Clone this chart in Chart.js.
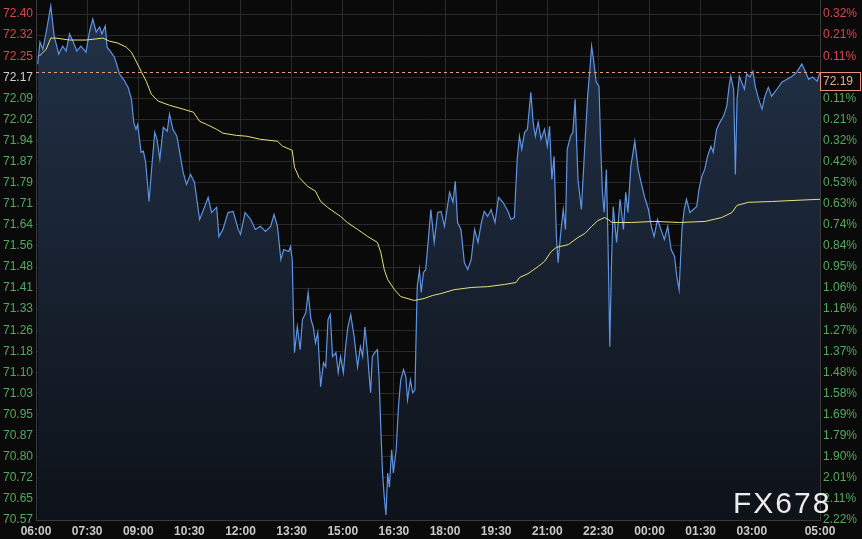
<!DOCTYPE html>
<html><head><meta charset="utf-8">
<script src="https://cdn.jsdelivr.net/npm/chart.js@4/dist/chart.umd.min.js"></script>
<style>html,body{margin:0;padding:0;background:#0a0a0a;overflow:hidden}#wrap{width:862px;height:539px;position:relative}</style>
</head><body><div id="wrap"><canvas id="c" width="862" height="539"></canvas></div>
<script>
const timeLabels = ['06:00','07:30','09:00','10:30','12:00','13:30','15:00','16:30','18:00','19:30','21:00','22:30','00:00','01:30','03:00','05:00'];
const timeTickMinutes = [0,90,180,270,360,450,540,630,720,810,900,990,1080,1170,1260,1380];
const priceTickLabels = ['72.40','72.32','72.25','72.17','72.09','72.02','71.94','71.87','71.79','71.71','71.64','71.56','71.48','71.41','71.33','71.26','71.18','71.10','71.03','70.95','70.87','70.80','70.72','70.65','70.57'];
const pctTickLabels = ['0.32%','0.21%','0.11%','','0.11%','0.21%','0.32%','0.42%','0.53%','0.63%','0.74%','0.84%','0.95%','1.06%','1.16%','1.27%','1.37%','1.48%','1.58%','1.69%','1.79%','1.90%','2.01%','2.11%','2.22%'];
const lastPrice = 72.19;

// minutes since 06:00
const priceMinutes = [3,7,12,18,26,32,40,47,53,59,65,72,79,88,94,100,106,112,116,122,125,132,138,142,147,154,162,168,172,176,179,185,189,193,199,203,209,213,218,224,231,235,241,248,253,259,265,272,279,288,297,303,309,318,322,329,338,347,356,360,368,
378,386,395,404,413,419,425,431,436,445,448,451,453,455,460,465,469,475,479,484,488,492,496,501,506,510,514,518,522,528,532,536,541,545,549,554,560,566,571,575,579,584,586,589,592,596,601,604,607,610,613,616,619,622,626,629,634,638,642,647,651,654,659,663,667,671,675,678,682,686,691,695,701,707,
713,719,728,734,738,742,748,754,760,766,772,778,784,789,795,801,808,814,822,831,836,842,847,851,855,860,865,871,875,879,884,889,895,900,904,908,912,916,919,923,928,932,935,941,945,949,954,960,966,971,975,978,982,986,991,994,997,1000,1004,1007,1010,1013,1016,1022,1028,1034,1038,1042,1047,
1054,1060,1065,1071,1078,1083,1088,1094,1100,1106,1112,1118,1124,1128,1132,1137,1141,1145,1151,1157,1163,1167,1172,1177,1182,1188,1192,1198,1204,1210,1216,1220,1223,1228,1231,1234,1238,1242,1247,1251,1257,1262,1266,1272,1278,1283,1289,1295,1304,1313,1322,1331,1339,1348,1354,1360,1367,1375,1380];
const prices = [72.219,72.299,72.273,72.335,72.429,72.320,72.255,72.284,72.266,72.328,72.302,72.266,72.284,72.262,72.335,72.382,72.335,72.353,72.328,72.357,72.280,72.262,72.244,72.219,72.183,72.164,72.135,72.092,72.009,71.983,72.001,71.900,71.904,71.864,71.722,71.827,71.972,71.947,71.875,71.990,71.976,72.038,71.983,71.958,71.900,71.827,71.784,71.820,71.791,71.657,71.704,71.737,71.682,71.701,71.595,71.621,71.682,71.686,71.621,71.603,71.682,
71.657,71.621,71.632,71.614,71.632,71.675,71.632,71.512,71.548,71.541,71.559,71.512,71.320,71.175,71.269,71.186,71.295,71.320,71.393,71.295,71.269,71.211,71.248,71.052,71.139,71.124,71.295,71.313,71.161,71.175,71.103,71.161,71.103,71.197,71.269,71.313,71.233,71.124,71.197,71.161,71.269,71.161,71.103,71.030,71.161,71.175,71.186,71.077,70.896,70.740,70.653,70.588,70.740,70.689,70.824,70.740,70.824,70.979,71.077,71.114,71.088,71.005,71.077,71.030,71.041,71.414,71.476,71.393,71.465,71.476,71.595,71.693,71.574,71.682,
71.686,71.632,71.755,71.719,71.795,71.646,71.621,71.501,71.476,71.512,71.621,71.574,71.646,71.686,71.668,71.693,71.646,71.737,71.719,71.686,71.657,71.664,71.875,71.958,71.911,71.972,71.983,72.117,72.009,71.958,72.009,71.947,71.983,71.922,71.994,71.802,71.885,71.595,71.501,71.595,71.693,71.621,71.911,71.958,71.972,72.092,71.802,71.693,71.922,72.103,72.201,72.284,72.226,72.154,72.139,71.922,71.755,71.682,71.838,71.559,71.197,71.501,71.704,71.574,71.730,71.621,71.755,71.682,71.849,
71.940,71.838,71.791,71.740,71.693,71.632,71.595,71.657,71.621,71.585,71.632,71.548,71.523,71.450,71.403,71.621,71.693,71.730,71.682,71.693,71.704,71.766,71.813,71.838,71.885,71.922,71.900,71.983,72.009,72.030,72.067,72.139,72.175,72.128,71.820,72.092,72.175,72.154,72.128,72.183,72.172,72.193,72.139,72.092,72.056,72.103,72.135,72.103,72.128,72.154,72.164,72.175,72.190,72.219,72.193,72.164,72.172,72.157,72.190];

const avgMinutes = [6,18,26,35,59,88,118,129,144,159,168,176,185,194,203,215,235,259,277,288,300,318,329,353,371,395,425,434,451,455,463,478,492,501,513,536,548,566,584,601,607,613,619,631,642,666,683,698,713,736,766,795,825,845,851,866,884,895,907,916,937,954,966,978,989,1001,1007,1014,1048,1089,1133,1178,1207,1225,1234,1254,1295,1336,1380];
const avgPrices = [72.248,72.273,72.313,72.313,72.306,72.306,72.313,72.302,72.295,72.280,72.262,72.230,72.193,72.157,72.110,72.085,72.070,72.056,72.045,72.012,72.001,71.983,71.969,71.961,71.958,71.947,71.940,71.922,71.907,71.846,71.809,71.777,71.759,71.722,71.701,71.668,71.646,71.621,71.595,71.574,71.537,71.476,71.440,71.403,71.378,71.364,71.371,71.382,71.389,71.403,71.411,71.414,71.422,71.429,71.447,71.461,71.487,71.505,71.541,71.556,71.566,71.592,71.606,71.632,71.653,71.664,71.657,71.646,71.646,71.650,71.646,71.650,71.664,71.682,71.708,71.719,71.722,71.726,71.730];

const RED = '#d9474f', GREEN = '#55a95f', GRID = '#2a2a2a';
const yTop = parseFloat(priceTickLabels[0]);
const yBottom = parseFloat(priceTickLabels[priceTickLabels.length-1]);
const yStep = (yTop - yBottom) / (priceTickLabels.length - 1);
const yMin = yBottom, yMax = yTop + yStep * 14 / 21.04;

function priceTicks(scale){ scale.ticks = priceTickLabels.map((l,i)=>({value: yTop - i*yStep})); }
function noPad(s){ s.paddingTop=0; s.paddingBottom=0; s.paddingLeft=0; s.paddingRight=0; }

const bgPlugin = {
  id:'bg',
  beforeDraw(chart){ const c=chart.ctx; c.save(); c.fillStyle='#0a0a0a'; c.fillRect(0,0,chart.width,chart.height); c.restore(); },
  afterDatasetsDraw(chart){
    const c=chart.ctx, ca=chart.chartArea, y=chart.scales.y.getPixelForValue(lastPrice);
    c.save();
    c.strokeStyle='#e0a080'; c.lineWidth=1; c.setLineDash([3,3]);
    c.beginPath(); c.moveTo(ca.left, Math.round(y)+0.5); c.lineTo(ca.right, Math.round(y)+0.5); c.stroke();
    c.restore();
  },
  afterDraw(chart){
    const c=chart.ctx, ca=chart.chartArea, y=Math.round(chart.scales.y.getPixelForValue(lastPrice));
    c.save();
    c.fillStyle='#0a0a0a'; c.fillRect(ca.right+0.5, y+0.5, 40, 18);
    c.strokeStyle='#e8907a'; c.lineWidth=1; c.setLineDash([]);
    c.strokeRect(ca.right+0.5, y+0.5, 40, 18);
    c.fillStyle='#e2b08e'; c.font='12px Arial, "Liberation Sans", sans-serif'; c.textBaseline='middle'; c.textAlign='left';
    c.fillText(lastPrice.toFixed(2), ca.right+3, y+10);
    // watermark
    c.fillStyle='#ececec'; c.font='30px Arial, "Liberation Sans", sans-serif'; c.textBaseline='alphabetic';
    try{ c.letterSpacing='2px'; }catch(e){}
    c.fillText('FX678', 733, 513);
    c.restore();
  }
};

const ctx = document.getElementById('c').getContext('2d');
new Chart(ctx, {
  type:'line',
  data:{ datasets:[
    { label:'avg', data: avgMinutes.map((m,i)=>({x:m,y:avgPrices[i]})), borderColor:'#e6e07a', borderWidth:1, pointRadius:0, fill:false, tension:0, order:0 },
    { label:'price', data: priceMinutes.map((m,i)=>({x:m,y:prices[i]})), borderColor:'#5f93e3', borderWidth:1.2, pointRadius:0, tension:0, order:1,
      fill:'start',
      backgroundColor:(c)=>{ const ch=c.chart, ca=ch.chartArea; if(!ca) return 'rgba(0,0,0,0)';
        const g=ch.ctx.createLinearGradient(0,ca.top,0,ca.bottom); g.addColorStop(0,'#223249'); g.addColorStop(1,'#0e1219'); return g; } }
  ]},
  options:{
    responsive:false, animation:false, devicePixelRatio:1,
    layout:{padding:0},
    plugins:{legend:{display:false}, tooltip:{enabled:false}},
    scales:{
      x:{ type:'linear', min:0, max:1380,
        afterBuildTicks:(s)=>{ s.ticks = timeTickMinutes.map(v=>({value:v})); },
        afterFit:(s)=>{ s.height=19; noPad(s); },
        ticks:{ autoSkip:false, maxRotation:0, padding:4, color:'#c8c8c8', font:{family:'Arial, "Liberation Sans", sans-serif', size:12, weight:'bold'},
          callback:(v,i)=>timeLabels[i] },
        grid:{ color:GRID, drawTicks:false }, border:{ display:true, color:'#3a3a3a' } },
      y:{ type:'linear', position:'left', min:yMin, max:yMax,
        afterBuildTicks:priceTicks, afterFit:(s)=>{ s.width=36; noPad(s); },
        ticks:{ autoSkip:false, padding:3, font:{family:'Arial, "Liberation Sans", sans-serif', size:12},
          color:(c)=> c.index<3 ? RED : (c.index===3 ? '#d0d0d0' : GREEN),
          callback:(v,i)=>priceTickLabels[i] },
        grid:{ color:GRID, drawTicks:false }, border:{ display:true, color:'#3a3a3a' } },
      y2:{ type:'linear', position:'right', min:yMin, max:yMax,
        afterBuildTicks:priceTicks, afterFit:(s)=>{ s.width=42; noPad(s); },
        ticks:{ autoSkip:false, padding:3, font:{family:'Arial, "Liberation Sans", sans-serif', size:12},
          color:(c)=> c.index<3 ? RED : GREEN,
          callback:(v,i)=>pctTickLabels[i] },
        grid:{ display:false, drawTicks:false }, border:{ display:true, color:'#3a3a3a' } }
    }
  },
  plugins:[bgPlugin]
});
</script></body></html>
